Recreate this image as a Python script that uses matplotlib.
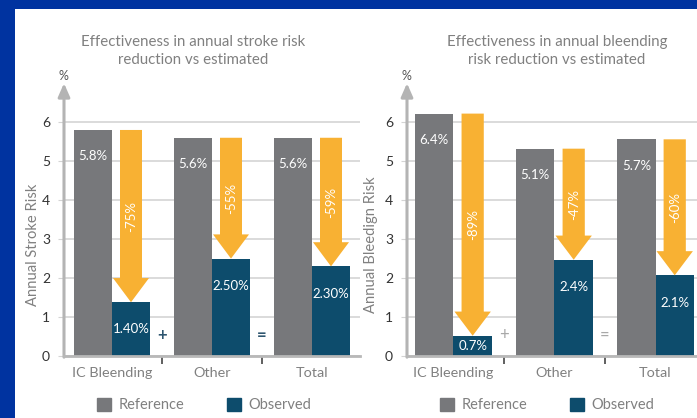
import matplotlib.pyplot as plt
from matplotlib.patches import Rectangle, Patch, FancyArrow

plt.rcParams['font.family'] = ['Lato', 'DejaVu Sans']

# ---- data ----
categories = ['IC Bleending', 'Other', 'Total']

stroke_ref = [5.8, 5.6, 5.6]
stroke_obs = [1.38, 2.5, 2.3]
stroke_ref_labels = ['5.8%', '5.6%', '5.6%']
stroke_obs_labels = ['1.40%', '2.50%', '2.30%']
stroke_change = ['-75%', '-55%', '-59%']

bleed_ref = [6.22, 5.32, 5.56]
bleed_obs = [0.52, 2.47, 2.07]
bleed_ref_labels = ['6.4%', '5.1%', '5.7%']
bleed_obs_labels = ['0.7%', '2.4%', '2.1%']
bleed_change = ['-89%', '-47%', '-60%']

REF_C = '#77787b'
OBS_C = '#0d4c6c'
ARR_C = '#f8b133'
TXT_C = '#808080'

W, H = 697, 418
fig = plt.figure(figsize=(W / 100, H / 100), dpi=100)
fig.patch.set_facecolor('#0033a0')
fig.patches.append(Rectangle((15 / W, 0), 1, (H - 9) / H, transform=fig.transFigure,
                             facecolor='white', edgecolor='none', zorder=-1))


def draw_panel(ax, ref, obs, ref_lab, obs_lab, change, ylabel, xlim, sign_c, sign_w,
               ylab_x):
    x = list(range(len(categories)))
    bw = 0.38
    ax.set_xlim(*xlim)
    ax.set_ylim(0, 6.8)
    ax.set_axisbelow(True)
    ax.patch.set_alpha(0)

    ax.bar([i - bw / 2 for i in x], ref, width=bw, color=REF_C, zorder=2)
    ax.bar([i + bw / 2 for i in x], obs, width=bw, color=OBS_C, zorder=2)

    for i in x:
        # reduction arrow from reference height down to observed height
        ax.add_patch(FancyArrow(i + bw / 2, ref[i], 0, obs[i] - ref[i], width=0.22,
                                head_width=0.36, head_length=0.62,
                                length_includes_head=True, color=ARR_C, lw=0, zorder=3))
        ax.text(i + bw / 2, (ref[i] + obs[i]) / 2, change[i], rotation=90,
                ha='center', va='center', color='white', fontsize=9.5, zorder=4)
        ax.text(i - bw / 2, ref[i] - 0.68, ref_lab[i], ha='center', va='center',
                color='white', fontsize=9.5, zorder=4)
        ax.text(i + bw / 2, max(obs[i] - 0.7, obs[i] / 2), obs_lab[i], ha='center',
                va='center', color='white', fontsize=9.5, zorder=4)

    ax.text(0.5, 0.55, '+', ha='center', va='center', color=sign_c, fontsize=12,
            fontweight=sign_w)
    ax.text(1.5, 0.55, '=', ha='center', va='center', color=sign_c, fontsize=12,
            fontweight=sign_w)

    # axes styling
    for s in ['top', 'right', 'left']:
        ax.spines[s].set_visible(False)
    ax.spines['bottom'].set_color('#b8b8b8')
    ax.spines['bottom'].set_linewidth(2)
    ax.spines['bottom'].set_zorder(5)
    ax.annotate('', xy=(xlim[0], 7.0), xytext=(xlim[0], -0.03),
                xycoords='data', annotation_clip=False,
                arrowprops=dict(arrowstyle='-|>,head_width=0.35,head_length=0.8',
                                color='#b4b4b4', lw=2.2, shrinkA=0, shrinkB=0))
    ax.text(xlim[0] - 0.01, 7.18, '%', ha='center', va='center', color='#555555',
            fontsize=9, clip_on=False)

    ax.set_yticks(range(0, 7))
    ax.tick_params(axis='y', length=4, color='#d4d4d4', labelcolor='#333333',
                   labelsize=10, pad=6)
    ax.yaxis.grid(True, color='#d4d4d4', lw=1.2)

    ax.set_xticks([0.5, 1.5])
    ax.set_xticklabels(['', ''])
    ax.tick_params(axis='x', which='major', length=6, width=1.2, color='#444444')
    ax.set_xticks(x, minor=True)
    ax.set_xticklabels(categories, minor=True)
    ax.tick_params(axis='x', which='minor', length=0, labelcolor=TXT_C,
                   labelsize=10.4, pad=8)

    ax.set_ylabel(ylabel, color=TXT_C, fontsize=10.6)
    ax.yaxis.set_label_coords(ylab_x, 0.42)

    ax.legend(handles=[Patch(color=REF_C, label='Reference'),
                       Patch(color=OBS_C, label='Observed')],
              loc='center', bbox_to_anchor=(0.473, -0.185), ncol=2, frameon=False,
              fontsize=10.5, handlelength=1.0, handleheight=1.0, handletextpad=0.5,
              columnspacing=2.9, labelcolor=TXT_C)


ax1 = fig.add_axes([64 / W, 62 / H, 296 / W, 265 / H])
draw_panel(ax1, stroke_ref, stroke_obs, stroke_ref_labels, stroke_obs_labels,
           stroke_change, 'Annual Stroke Risk', (-0.48, 2.48), '#2f5670', 'bold', -0.082)

ax2 = fig.add_axes([407 / W, 62 / H, 296 / W, 265 / H])
draw_panel(ax2, bleed_ref, bleed_obs, bleed_ref_labels, bleed_obs_labels,
           bleed_change, 'Annual Bleedign Risk', (-0.46, 2.47), '#a8a8a8', 'normal', -0.098)

fig.text(193 / W, 1 - 51 / H, 'Effectiveness in annual stroke risk\nreduction vs estimated',
         ha='center', va='center', color=TXT_C, fontsize=10.8, linespacing=1.4)
fig.text(557 / W, 1 - 51 / H, 'Effectiveness in annual bleending\nrisk reduction vs estimated',
         ha='center', va='center', color=TXT_C, fontsize=10.8, linespacing=1.4)

fig.savefig('out.png', dpi=100)
